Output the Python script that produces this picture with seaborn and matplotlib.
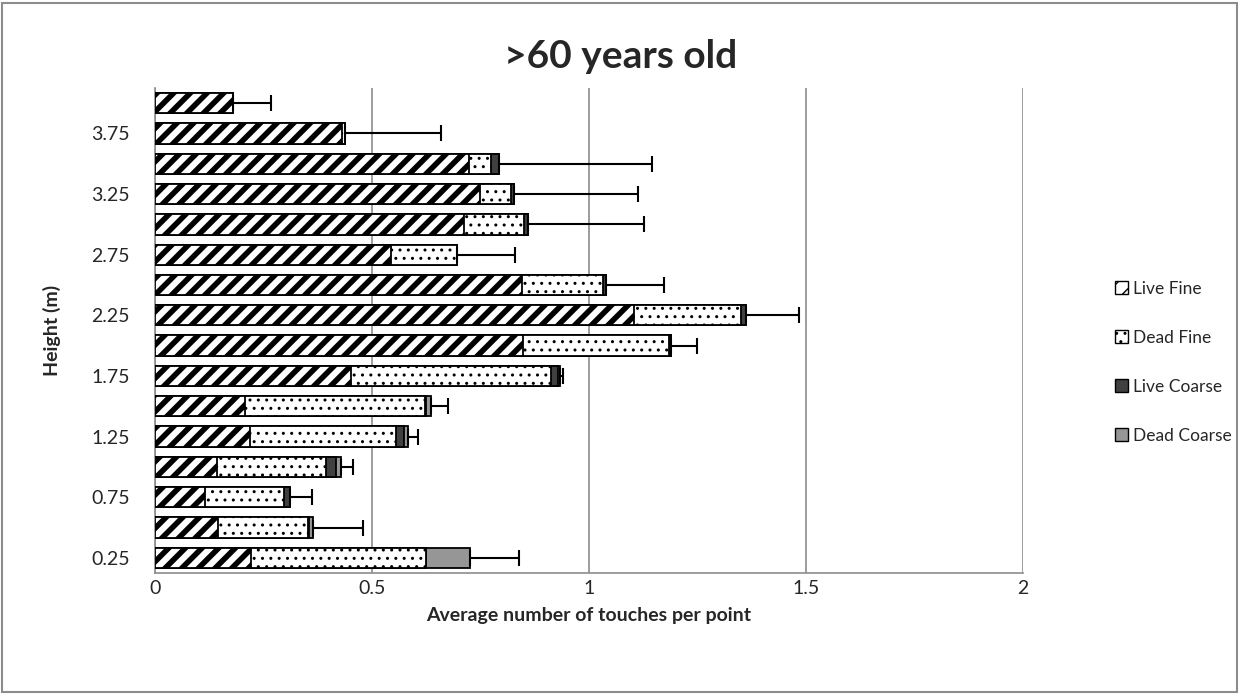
import numpy as np
import pandas as pd
import seaborn as sns
import matplotlib
from matplotlib import pyplot as plt
from matplotlib.patches import Patch, Rectangle

# bottom (0.25 m) to top (4 m)
heights = ["0.25", "0.5", "0.75", "1", "1.25", "1.5", "1.75", "2",
           "2.25", "2.5", "2.75", "3", "3.25", "3.5", "3.75", "4"]
live_fine = [0.222, 0.145, 0.115, 0.142, 0.220, 0.208, 0.451, 0.848,
             1.104, 0.845, 0.544, 0.711, 0.748, 0.724, 0.432, 0.179]
dead_fine = [0.403, 0.207, 0.182, 0.253, 0.336, 0.415, 0.462, 0.337,
             0.247, 0.187, 0.152, 0.139, 0.073, 0.051, 0.006, 0.0]
live_coarse = [0.0, 0.003, 0.015, 0.023, 0.018, 0.002, 0.016, 0.004,
               0.010, 0.007, 0.0, 0.009, 0.006, 0.017, 0.0, 0.0]
dead_coarse = [0.101, 0.010, 0.0, 0.010, 0.010, 0.010, 0.005, 0.0,
               0.0, 0.0, 0.0, 0.0, 0.0, 0.0, 0.0, 0.0]
error_plus = [0.113, 0.114, 0.050, 0.029, 0.023, 0.039, 0.006, 0.061,
              0.123, 0.134, 0.133, 0.268, 0.286, 0.354, 0.220, 0.089]
shown_ticks = ["0.25", "0.75", "1.25", "1.75", "2.25", "2.75", "3.25", "3.75"]

df = pd.DataFrame({"height": heights, "live_fine": live_fine, "dead_fine": dead_fine,
                   "live_coarse": live_coarse, "dead_coarse": dead_coarse,
                   "err": error_plus})
df["c1"] = df["live_fine"]
df["c2"] = df["c1"] + df["dead_fine"]
df["c3"] = df["c2"] + df["live_coarse"]
df["c4"] = df["c3"] + df["dead_coarse"]

order = heights[::-1]  # top of chart first

sns.set_style("white")
plt.rcParams["font.family"] = ["Lato", "DejaVu Sans"]
plt.rcParams["hatch.color"] = "black"
plt.rcParams["hatch.linewidth"] = 4.0

fig = plt.figure(figsize=(12.41, 6.94), dpi=100)
ax = fig.add_axes([0.1249, 0.1744, 0.6994, 0.6988])

# stack by overdrawing, longest first
layers = [
    ("c4", "#969696", None, 1.0),
    ("c3", "#404040", None, 1.0),
    ("c2", "white", "..", 1.0),
    ("c1", "white", "//", 4.0),
]
for col, color, hatch, hlw in layers:
    n0 = len(ax.patches)
    sns.barplot(data=df, x=col, y="height", order=order, orient="h", color=color,
                saturation=1, edgecolor="black", linewidth=1.3, width=0.67,
                hatch=hatch, ax=ax, zorder=3)
    for p in ax.patches[n0:]:
        if hasattr(p, "set_hatch_linewidth"):
            p.set_hatch_linewidth(hlw)

pos = [order.index(h) for h in df["height"]]
ax.errorbar(df["c4"], pos, xerr=[np.zeros(len(df)), df["err"]], fmt="none",
            ecolor="black", elinewidth=1.5, capsize=6, capthick=1.5, zorder=4)

ax.set_xlim(0, 2)
ax.set_ylim(15.5, -0.5)
ax.set_xticks([0, 0.5, 1, 1.5, 2])
ax.set_xticklabels(["0", "0.5", "1", "1.5", "2"], fontsize=14)
ax.set_yticks(range(len(order)))
ax.set_yticklabels([h if h in shown_ticks else "" for h in order], fontsize=14)
ax.tick_params(axis="x", length=0, pad=5)
ax.tick_params(axis="y", length=0, pad=18)
ax.grid(axis="x", color="#8c8c8c", linewidth=1.2, zorder=0)
ax.set_axisbelow(True)
for s in ["top", "right"]:
    ax.spines[s].set_visible(False)
for s in ["left", "bottom"]:
    ax.spines[s].set_color("#8c8c8c")
    ax.spines[s].set_linewidth(1.2)

ax.set_xlabel("Average number of touches per point", fontsize=14, fontweight="bold", labelpad=7)
ax.set_ylabel("Height (m)", fontsize=14, fontweight="bold", labelpad=22)
fig.suptitle(">60 years old", fontsize=28, fontweight="bold", x=0.5, y=0.944)

handles = [
    Patch(facecolor="white", edgecolor="black", hatch="//", label="Live Fine"),
    Patch(facecolor="white", edgecolor="black", hatch="..", label="Dead Fine"),
    Patch(facecolor="#404040", edgecolor="black", label="Live Coarse"),
    Patch(facecolor="#969696", edgecolor="black", label="Dead Coarse"),
]
leg = fig.legend(handles=handles, loc="center left", bbox_to_anchor=(0.886, 0.478),
                 frameon=False, fontsize=12.5, handlelength=0.75, handleheight=0.75,
                 handletextpad=0.25, labelspacing=1.9)
for p in leg.get_patches():
    if hasattr(p, "set_hatch_linewidth"):
        p.set_hatch_linewidth(1.0)

fig.patches.append(Rectangle((0.002, 0.003), 0.995, 0.993, transform=fig.transFigure,
                             fill=False, edgecolor="#8c8c8c", linewidth=1.5))

fig.savefig("out.png", dpi=100)
